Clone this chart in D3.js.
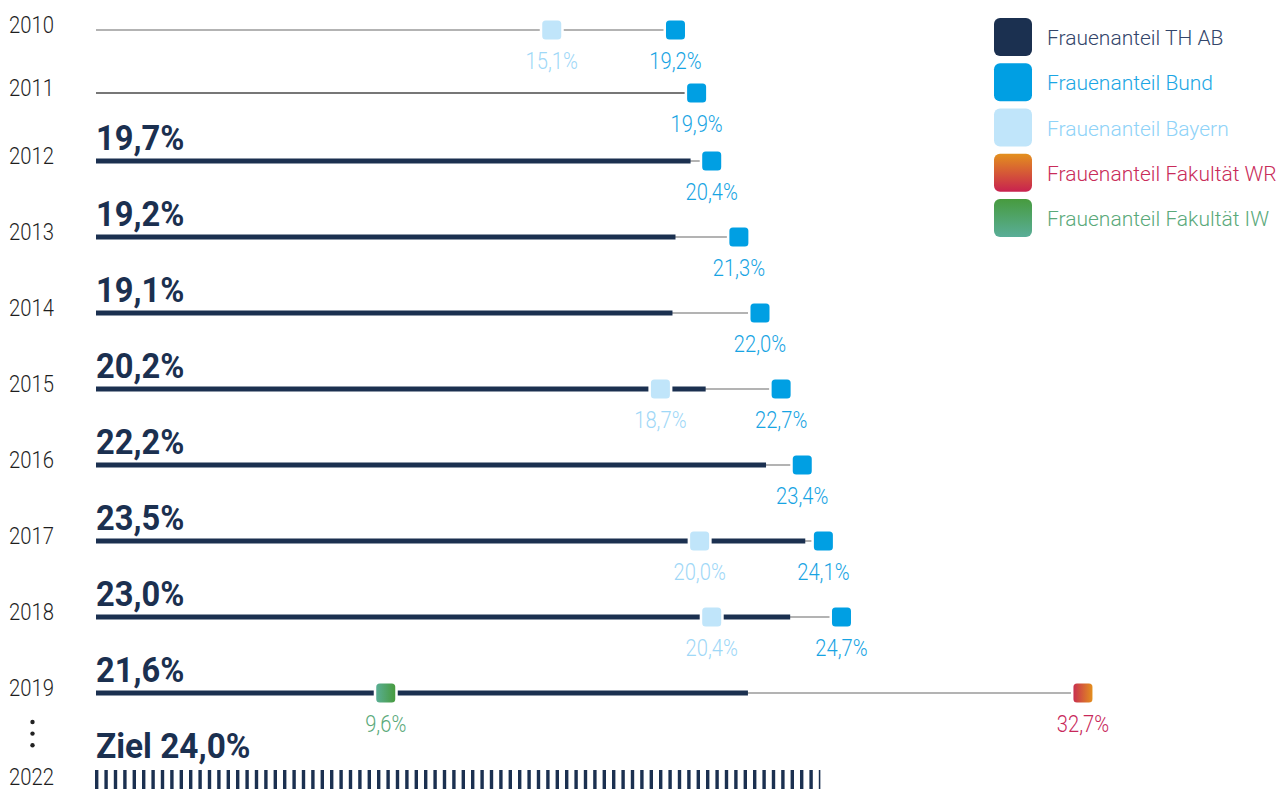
<!DOCTYPE html>
<html><head><meta charset="utf-8">
<script src="https://cdn.jsdelivr.net/npm/d3@7"></script>
<style>
html,body{margin:0;padding:0;background:#fff;}
svg{display:block;font-family:Roboto,"Noto Sans",sans-serif;}
</style></head>
<body><svg id="chart" width="1288" height="789"></svg>
<script>
// ---- data ----
const years = [2010, 2011, 2012, 2013, 2014, 2015, 2016, 2017, 2018, 2019];
const anteilTHAB   = [null, null, 19.7, 19.2, 19.1, 20.2, 22.2, 23.5, 23.0, 21.6];
const anteilBund   = [19.2, 19.9, 20.4, 21.3, 22.0, 22.7, 23.4, 24.1, 24.7, null];
const anteilBayern = [15.1, null, null, null, null, 18.7, null, 20.0, 20.4, null];
const anteilWR     = [null, null, null, null, null, null, null, null, null, 32.7];
const anteilIW     = [null, null, null, null, null, null, null, null, null, 9.6];
const goalYear = 2022;
const goalValue = 24.0;
const goalPrefix = "Ziel ";
const legendLabels = ["Frauenanteil TH AB", "Frauenanteil Bund", "Frauenanteil Bayern", "Frauenanteil Fakultät WR", "Frauenanteil Fakultät IW"];

// ---- styles ----
const navy = "#1b3050";
const markerSeries = [
  {key: "bayern", values: anteilBayern, fill: "#c0e5fa", text: "#9fd8f7"},
  {key: "bund", values: anteilBund, fill: "#009fe3", text: "#17a4e3"},
  {key: "wr", values: anteilWR, fill: "url(#gWR)", text: "#c8285a"},
  {key: "iw", values: anteilIW, fill: "url(#gIW)", text: "#5aa97a"}
];
const legendFill = [navy, "#009fe3", "#c0e5fa", "url(#lgWR)", "url(#lgIW)"];
const legendText = ["#33456a", "#1ba6e4", "#8fd3f8", "#c92c5a", "#5aa97a"];
const darkGuideYears = [2011];

const locale = d3.formatLocale({decimal: ",", thousands: ".", grouping: [3], currency: ["", "€"]});
const fmt = v => locale.format(".1f")(v) + "%";

const svg = d3.select("#chart");
const defs = svg.append("defs");
function grad(id, horizontal, c0, c1) {
  const g = defs.append("linearGradient").attr("id", id)
    .attr("x1", 0).attr("y1", 0).attr("x2", horizontal ? 1 : 0).attr("y2", horizontal ? 0 : 1);
  g.append("stop").attr("offset", "0%").attr("stop-color", c0);
  g.append("stop").attr("offset", "100%").attr("stop-color", c1);
}
grad("gWR", true, "#c8304f", "#e38f1e");
grad("gIW", true, "#5aae94", "#479b3e");
grad("lgWR", false, "#e3901e", "#c8224f");
grad("lgIW", false, "#479b3e", "#5aae98");

const x = d3.scaleLinear().domain([0, 33]).range([96, 1092]);
const y = d3.scaleLinear().domain([2010, 2011, 2012, 2019, 2022]).range([30, 93, 161, 693, 780]);

const rows = years.map((yr, i) => ({
  year: yr, th: anteilTHAB[i],
  max: d3.max(markerSeries.map(s => s.values[i]).concat([anteilTHAB[i]]).filter(v => v != null))
}));

// guide lines
svg.append("g").selectAll("line").data(rows).join("line")
  .attr("x1", x(0)).attr("x2", d => x(d.max))
  .attr("y1", d => y(d.year)).attr("y2", d => y(d.year))
  .attr("stroke", d => darkGuideYears.includes(d.year) ? "#4a4a4a" : "#9a9a9a")
  .attr("stroke-width", 1.4);

// TH AB bars
const thRows = rows.filter(d => d.th != null);
svg.append("g").selectAll("line").data(thRows).join("line")
  .attr("x1", x(0)).attr("x2", d => x(d.th))
  .attr("y1", d => y(d.year)).attr("y2", d => y(d.year))
  .attr("stroke", navy).attr("stroke-width", 5);

// big TH AB labels
svg.append("g").selectAll("g").data(thRows).join("g")
  .attr("transform", d => `translate(${x(0)},${y(d.year) - 11}) scale(0.92,1)`)
  .append("text")
  .attr("font-size", 35.5).attr("font-weight", 700).attr("fill", navy)
  .text(d => fmt(d.th));

// goal
svg.append("line")
  .attr("x1", x(0) - 1).attr("x2", x(goalValue))
  .attr("y1", y(goalYear)).attr("y2", y(goalYear))
  .attr("stroke", navy).attr("stroke-width", 20).attr("stroke-dasharray", "3.4,6");
svg.append("g").attr("transform", `translate(${x(0)},${y(goalYear) - 22}) scale(0.94,1)`)
  .append("text")
  .attr("font-size", 35.5).attr("font-weight", 700).attr("fill", navy)
  .text(goalPrefix + fmt(goalValue));

// markers + value labels
const ms = 19;
markerSeries.forEach(s => {
  const pts = years.map((yr, i) => ({year: yr, v: s.values[i]})).filter(d => d.v != null);
  svg.append("g").selectAll("rect").data(pts).join("rect")
    .attr("x", d => x(d.v) - ms / 2).attr("y", d => y(d.year) - ms / 2)
    .attr("width", ms).attr("height", ms).attr("rx", 3.5)
    .attr("fill", s.fill).attr("stroke", "#fff").attr("stroke-width", 5)
    .attr("paint-order", "stroke");
  svg.append("g").selectAll("g").data(pts).join("g")
    .attr("transform", d => `translate(${x(d.v)},${y(d.year) + 39}) scale(0.84,1)`)
    .append("text").attr("text-anchor", "middle")
    .attr("font-size", 24).attr("font-weight", 300).attr("fill", s.text)
    .text(d => fmt(d.v));
});

// year labels
const yearLabels = years.concat([goalYear]);
svg.append("g").selectAll("g").data(yearLabels).join("g")
  .attr("transform", d => `translate(9,${y(d) + (d === goalYear ? 5 : 2.5)}) scale(0.88,1)`)
  .append("text").attr("font-size", 23).attr("font-weight", 300).attr("fill", "#1e1e1e")
  .text(d => d);

// ellipsis between 2019 and goal year
svg.append("g").selectAll("circle").data([2020, 2020.4, 2020.8]).join("circle")
  .attr("cx", 32.5).attr("cy", d => y(d)).attr("r", 2.2).attr("fill", "#222");

// legend
const lg = svg.append("g");
const ly = d3.scaleLinear().domain([0, 4]).range([18, 199]);
legendLabels.forEach((lab, i) => {
  lg.append("rect").attr("x", 994).attr("y", ly(i)).attr("width", 38).attr("height", 38)
    .attr("rx", 6).attr("fill", legendFill[i]);
  lg.append("text").attr("x", 1047).attr("y", ly(i) + 27)
    .attr("font-size", 21).attr("font-weight", 300).attr("fill", legendText[i])
    .text(lab);
});
</script></body></html>
